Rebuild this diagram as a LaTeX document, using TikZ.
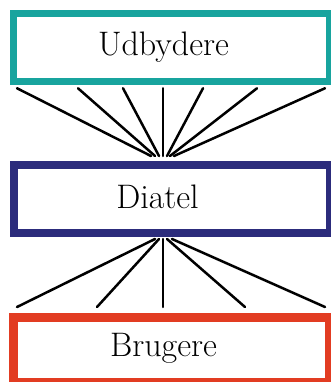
\documentclass[tikz,border=0pt]{standalone}
\usetikzlibrary{calc}
\definecolor{udbteal}{RGB}{24,164,158}
\definecolor{dianavy}{RGB}{44,44,124}
\definecolor{brured}{RGB}{226,60,34}
\tikzset{
    box/.style={draw, fill=white, inner sep=0pt, minimum width=316pt},
    boxtext/.style={font=\fontsize{34}{40}\selectfont},
    fan/.style={line width=2.5pt, line cap=round}
}
\begin{document}
\begin{tikzpicture}[x=1pt,y=-1pt]
    \useasboundingbox (0,0) rectangle (330,382);
    \node (udb) at (171.5,47.5) [box,draw=udbteal,line width=7.5pt,minimum height=68pt,
        label={[boxtext,xshift=-8pt]center:Udbydere}] {};
    \node (dia) at (171.5,198.5) [box,draw=dianavy,line width=8pt,minimum height=68pt,
        label={[boxtext,xshift=-14pt,yshift=2pt]center:Diatel}] {};
    \node (bru) at (171.5,350) [box,draw=brured,line width=9pt,minimum height=65pt,
        label={[boxtext,xshift=-8pt,yshift=2pt]center:Brugere}] {};
    \foreach \t/\d in {17/151,78/155,123/159,163/163,203/167,257/170,325/174}
        \draw[fan] ([yshift=-3pt]\t,0 |- udb.south) -- ([yshift=4.5pt]\d,0 |- dia.north);
    \foreach \d/\b in {155/17,159/97,163/163,167/245,172/325}
        \draw[fan] ([yshift=-2.5pt]\d,0 |- dia.south) -- ([yshift=6pt]\b,0 |- bru.north);
\end{tikzpicture}
\end{document}
